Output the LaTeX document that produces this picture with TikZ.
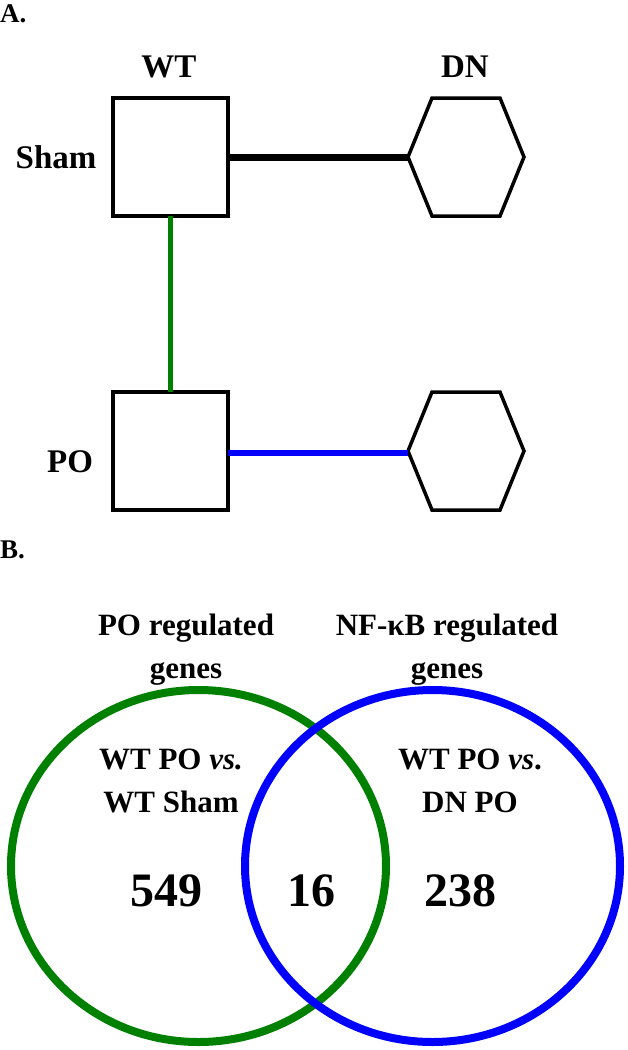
\documentclass[tikz,border=0pt]{standalone}
\usepackage{fontspec}
\setmainfont{Liberation Serif}
\usetikzlibrary{shapes.geometric}
\definecolor{vgreen}{RGB}{0,128,0}
\definecolor{vblue}{RGB}{0,0,255}
\tikzset{
  lbl/.style={font=\bfseries\fontsize{33}{38}\selectfont, inner sep=0pt},
  panel/.style={font=\bfseries\fontsize{27}{30}\selectfont, inner sep=0pt, anchor=west},
  vlbl/.style={font=\bfseries\fontsize{31}{43}\selectfont, inner sep=0pt, align=center},
  num/.style={font=\bfseries\fontsize{48}{52}\selectfont, inner sep=0pt},
  sqbox/.style={draw=black, line width=3.5pt, minimum width=115pt, minimum height=118pt, inner sep=0pt, outer sep=0pt},
  hexbox/.style={minimum width=116pt, minimum height=118pt, inner sep=0pt, outer sep=0pt},
  hexline/.style={draw=black, line width=3.5pt, line join=miter},
  venn/.style={ellipse, line width=8pt, minimum width=375pt, minimum height=352pt, inner sep=0pt, outer sep=0pt}
}
\begin{document}
\begin{tikzpicture}[x=1pt,y=-1pt]
\useasboundingbox (0,0) rectangle (627,1050);
% Panel A
\node[panel] (A) at (0,14) {A.};
\node[lbl] (wt) at (169,67) {WT};
\node[lbl] (dn) at (465,67) {DN};
\node[sqbox] (b1) at (170.5,157) {};
\node[sqbox] (b2) at (170.5,451) {};
\node[hexbox] (h1) at (466,157) {};
\node[hexbox] (h2) at (466,451) {};
\foreach \h in {h1,h2}{
  \draw[hexline] (\h.west) -- ([xshift=24pt]\h.north west) -- ([xshift=-24pt]\h.north east) -- (\h.east) -- ([xshift=-24pt]\h.south east) -- ([xshift=24pt]\h.south west) -- cycle;
}
\node[lbl] (sham) at (56,157) {Sham};
\node[lbl] (po) at (70,462) {PO};
\draw[black, line width=7pt] (b1.east) -- (h1.west);
\draw[vgreen, line width=5pt] (b1.south) -- (b2.north);
\draw[vblue, line width=6pt] (b2.east |- 0,453) -- (h2.west |- 0,453);
% Panel B
\node[panel] (B) at (0,550) {B.};
\node[venn, draw=vgreen] (c1) at (198.5,866) {};
\node[venn, draw=vblue] (c2) at (432.5,866) {};
\node[vlbl] (t1) at (186,650) {PO regulated\\genes};
\node[vlbl] (t2) at (447,650) {NF-κB regulated\\genes};
\node[vlbl] (s1) at (171,781) {WT PO \textit{vs.}\\WT Sham};
\node[vlbl] (s2) at (470,781) {WT PO \textit{vs}.\\DN PO};
\node[num] (n1) at (166,891) {549};
\node[num] (n2) at (311,891) {16};
\node[num] (n3) at (460,891) {238};
\end{tikzpicture}
\end{document}
